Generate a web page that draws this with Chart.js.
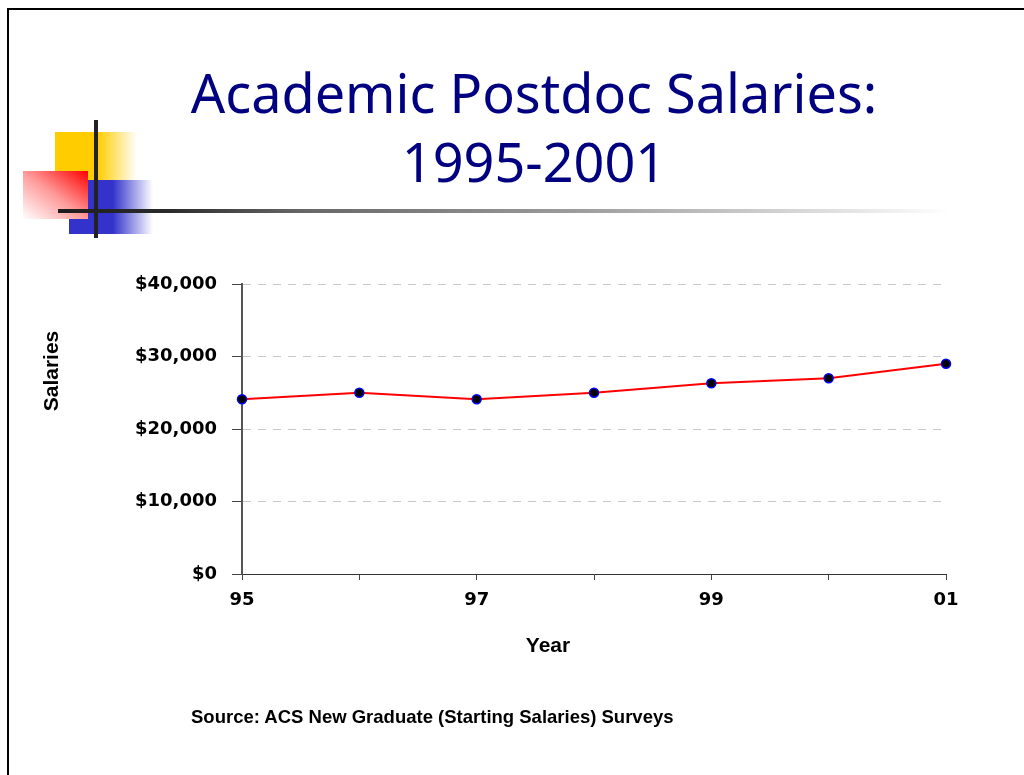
<!DOCTYPE html>
<html>
<head>
<meta charset="utf-8">
<title>Academic Postdoc Salaries: 1995-2001</title>
<script src="https://cdn.jsdelivr.net/npm/chart.js@4.4.1/dist/chart.umd.min.js"></script>
<style>
  html, body { margin: 0; padding: 0; background: #fff; }
  #slide { position: relative; width: 1024px; height: 775px; overflow: hidden; background: #fff; }
  .frameTop { position: absolute; left: 7px; top: 8px; width: 1017px; height: 2px; background: #000; }
  .frameLeft { position: absolute; left: 7px; top: 8px; width: 2px; height: 767px; background: #000; }
  .deco { position: absolute; }
  #yellow { left: 55px; top: 132px; width: 82px; height: 48px;
    background: linear-gradient(to right, #ffcc00 0%, #ffcc00 52%, rgba(255,204,0,0) 100%); }
  #blue { left: 69px; top: 180px; width: 84px; height: 54px;
    background: linear-gradient(to right, #3333cc 0%, #3333cc 52%, rgba(51,51,204,0) 100%); }
  #red { left: 23px; top: 171px; width: 65px; height: 48px;
    background: linear-gradient(to top right, #ffffff 0%, #ff9999 50%, #ff0000 100%); }
  #vline { left: 94px; top: 120px; width: 4px; height: 118px; background: #222; }
  #hline { left: 58px; top: 209px; width: 892px; height: 4px;
    background: linear-gradient(to right, #1e1e1e 0%, #2a2a2a 12%, #666 27%, #a0a0a0 60%, #ffffff 100%); }
  #title { position: absolute; left: 0; top: 58px; width: 1068px; text-align: center;
    font-family: "Noto Sans", sans-serif; font-size: 54px; line-height: 69px; color: #000080; }
  #source { position: absolute; left: 191px; top: 706px;
    font-family: "Liberation Sans", Arial, sans-serif; font-weight: bold; font-size: 18.5px; color: #000; }
  #chartBox { position: absolute; left: 0; top: 0; width: 1024px; height: 775px; }
</style>
</head>
<body>
<div id="slide">
  <div class="frameTop"></div>
  <div class="frameLeft"></div>
  <div class="deco" id="yellow"></div>
  <div class="deco" id="blue"></div>
  <div class="deco" id="red"></div>
  <div class="deco" id="vline"></div>
  <div class="deco" id="hline"></div>
  <div id="title">Academic Postdoc Salaries:<br>1995-2001</div>
  <div id="chartBox"><canvas id="salaryChart"></canvas></div>
  <div id="source">Source: ACS New Graduate (Starting Salaries) Surveys</div>
</div>
<script>
// data
const years = ['95', '96', '97', '98', '99', '00', '01'];
const salaries = [24100, 25000, 24100, 25000, 26300, 27000, 29000];
const yTicks = [0, 10000, 20000, 30000, 40000];
const shownYears = ['95', '97', '99', '01'];
const xTitle = 'Year';
const yTitle = 'Salaries';

// axis titles are not centred on the axes in the slide, so draw them by hand
const axisTitlePlugin = {
  id: 'axisTitles',
  afterDraw(chart) {
    const ctx = chart.ctx;
    const area = chart.chartArea;
    ctx.save();
    ctx.font = 'bold 21px "Liberation Sans", Arial, sans-serif';
    ctx.fillStyle = '#000';
    ctx.textAlign = 'center';
    ctx.textBaseline = 'middle';
    ctx.fillText(xTitle, (area.left + area.right) / 2 - 46, area.bottom + 72);
    ctx.translate(52, (area.top + area.bottom) / 2 - 58);
    ctx.rotate(-Math.PI / 2);
    ctx.fillText(yTitle, 0, 0);
    ctx.restore();
  }
};

const tickFont = { family: '"DejaVu Sans", sans-serif', size: 18, weight: 'bold' };

new Chart(document.getElementById('salaryChart'), {
  type: 'line',
  data: {
    labels: years,
    datasets: [{
      label: 'Salaries',
      data: salaries,
      borderColor: '#ff0000',
      borderWidth: 2,
      tension: 0,
      pointRadius: 4.5,
      pointBackgroundColor: '#000',
      pointBorderColor: '#0000ff',
      pointBorderWidth: 1.5
    }]
  },
  options: {
    responsive: true,
    maintainAspectRatio: false,
    animation: false,
    layout: { padding: { left: 30, top: 284, right: 78, bottom: 0 } },
    plugins: {
      legend: { display: false },
      tooltip: { enabled: false }
    },
    scales: {
      x: {
        afterFit: s => { s.height = 201; },
        grid: { drawOnChartArea: false, drawTicks: true, tickLength: 6, tickColor: '#444', lineWidth: 1 },
        border: { display: true, color: '#333', width: 1 },
        ticks: {
          autoSkip: false, maxRotation: 0, padding: 10, color: '#000', font: tickFont,
          callback: function (v) {
            const lab = this.getLabelForValue(v);
            return shownYears.includes(lab) ? lab : '';
          }
        }
      },
      y: {
        afterFit: s => { s.width = 212; },
        min: yTicks[0],
        max: yTicks[yTicks.length - 1],
        grid: { color: '#c8c8c8', lineWidth: 1, tickLength: 10, tickColor: '#444' },
        border: { display: true, color: '#555', width: 2, dash: [8, 7] },
        ticks: {
          stepSize: yTicks[1] - yTicks[0], padding: 15, color: '#000', font: tickFont,
          callback: v => '$' + v.toLocaleString('en-US')
        }
      }
    }
  },
  plugins: [axisTitlePlugin]
});
</script>
</body>
</html>
